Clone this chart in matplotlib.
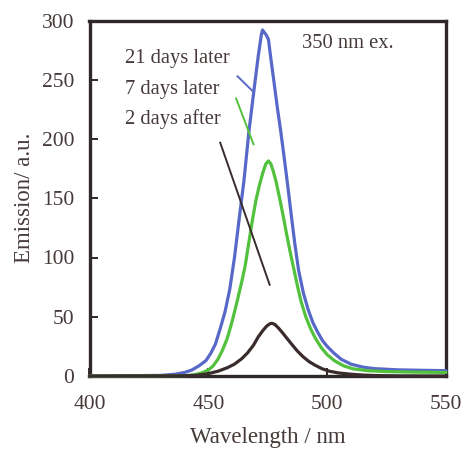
import matplotlib
matplotlib.use("Agg")
import matplotlib.pyplot as plt

# ---- data ----
wl_21 = [400, 430, 436, 440, 443, 446, 449, 451, 453, 455, 457, 459, 461, 463, 465, 467, 469,
         471, 472.3, 472.8, 473.5, 474.3, 475.3, 476.3, 477.5, 479, 480.5, 482, 483.5, 485,
         486.5, 488, 490, 492, 494, 496, 498, 500, 503, 506, 510, 515, 520, 530, 540, 550]
em_21 = [0, 0.5, 1.5, 3, 5, 8.5, 13, 19, 27, 40, 54, 73, 100, 133, 165, 205, 238,
         270, 288, 292, 290, 288, 284, 268, 250, 227, 206, 183, 159, 134,
         110, 89, 70, 56, 45, 37, 30, 25, 19, 14, 10, 7.5, 6.2, 5.2, 4.8, 4.5]

wl_7 = [400, 440, 444, 447, 450, 452, 454, 456, 458, 460, 462, 464, 465.5, 467, 468.5, 470,
        471.5, 473, 474.2, 475.3, 476.3, 477.3, 478.5, 480, 481.5, 483, 484.5, 486, 487.5,
        489, 491, 493, 495, 497.5, 500, 503, 507, 511, 517, 525, 535, 550]
em_7 = [0, 0.3, 1, 2.5, 5, 8.5, 14, 22, 32, 46, 62, 79, 93, 112, 131, 148,
        161, 172, 179, 181.5, 179, 173, 164, 150, 135, 119, 104, 90, 76,
        63, 50, 40, 32, 24, 18, 13, 8.5, 6, 4.5, 3.7, 3.3, 3]

wl_2 = [400, 440, 445, 450, 454, 458, 461, 464, 466.5, 469, 471, 473, 474.5, 475.8, 476.8,
        478, 479.5, 481, 483, 485, 487.5, 490, 492.5, 495, 498, 501, 505, 510, 515, 520,
        530, 550]
em_2 = [0, 0.2, 0.6, 2, 4, 7, 10, 14.5, 19.5, 26, 33, 38.5, 42, 44, 44.5,
        43.5, 40.5, 37, 32, 27, 21, 16, 12, 9, 6, 4, 2.5, 1.5, 0.8, 0.4,
        0.1, 0]

series_labels = ["21 days later", "7 days later", "2 days after"]
series_colors = ["#5868c8", "#52c23c", "#3a2c2c"]

# leader lines from labels to curves (data coords)
leader_x = [[462.3, 468.4], [461.7, 469.0], [455.0, 475.8]]
leader_y = [[252.9, 240.9], [234.2, 195.5], [196.9, 77.0]]
label_x = 415
label_y = [268, 242, 217]

x_ticks = [400, 450, 500, 550]
y_ticks = [0, 50, 100, 150, 200, 250, 300]

# ---- figure ----
plt.rcParams['font.family'] = ['Liberation Serif', 'DejaVu Serif']
text_color = "#463a3a"
spine_color = "#2e2828"

fig = plt.figure(figsize=(4.65, 4.54), dpi=100)
ax = fig.add_axes([89.5 / 465, (454 - 376) / 454, (446 - 89.5) / 465, (376 - 20.5) / 454])

for wl, em, c in [(wl_21, em_21, series_colors[0]), (wl_7, em_7, series_colors[1]), (wl_2, em_2, series_colors[2])]:
    ax.plot(wl, em, color=c, lw=2.3, zorder=3, clip_on=False,
            solid_joinstyle='round', solid_capstyle='round')

for lx, ly, c in zip(leader_x, leader_y, series_colors):
    ax.plot(lx, ly, color=c, lw=1.4, zorder=3)

for lab, y in zip(series_labels, label_y):
    ax.text(label_x, y, lab, fontsize=14.8, color=text_color, ha='left', va='center')
ax.text(489.4, 281, "350 nm ex.", fontsize=14.8, color=text_color, ha='left', va='center')

ax.set_xlim(400, 550)
ax.set_ylim(0, 300)
ax.set_xticks(x_ticks)
ax.set_yticks(y_ticks)
ax.tick_params(direction='in', length=6, width=1.4, color=spine_color,
               labelsize=15.5, labelcolor=text_color, top=False, right=False)
ax.tick_params(axis='x', pad=14)
ax.tick_params(axis='y', pad=11)
for s in ax.spines.values():
    s.set_linewidth(2.4)
    s.set_color(spine_color)

ax.set_xlabel("Wavelength / nm", fontsize=16.5, color=text_color, labelpad=9)
ax.set_ylabel("Emission/ a.u.", fontsize=16.5, color=text_color, labelpad=5)

fig.savefig("out.png", dpi=100)
